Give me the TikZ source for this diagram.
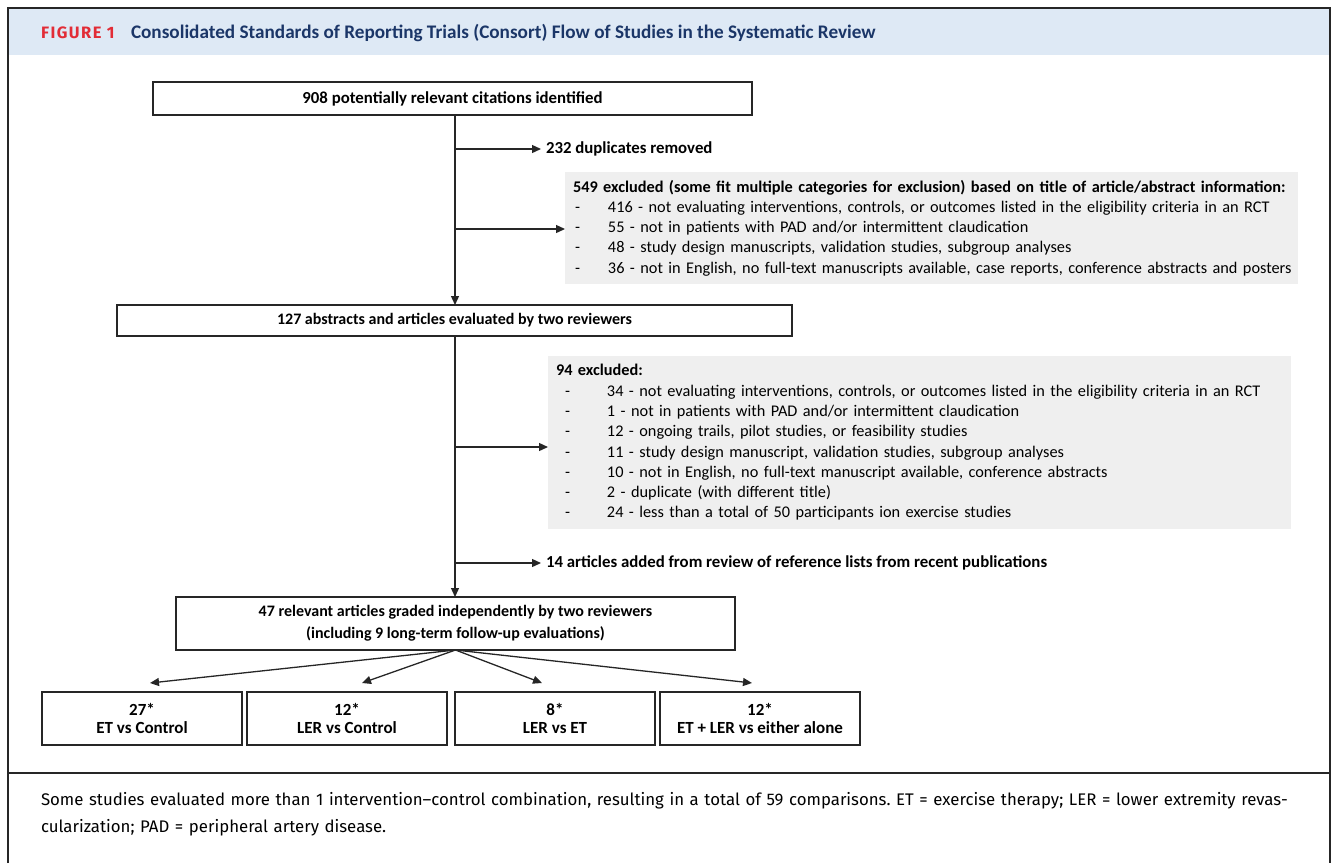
\documentclass[tikz,border=0pt]{standalone}
\usepackage{fontspec}
\setmainfont{Carlito}
\newfontfamily\capfont{Fira Sans}
\usetikzlibrary{arrows.meta}
\frenchspacing

\definecolor{headblue}{RGB}{222,233,245}
\definecolor{headred}{RGB}{226,44,54}
\definecolor{headnavy}{RGB}{27,54,104}
\definecolor{exclgrey}{RGB}{239,239,239}

%% one excluded-reason line: indent, dash width, text
\newcommand{\exline}[3]{\hspace*{#1pt}\makebox[#2pt][l]{-}\mbox{#3}}

\begin{document}
\begin{tikzpicture}[x=1pt,y=-1pt,every node/.style={inner sep=0,outer sep=0},
  flowbox/.style={draw=black!85,line width=1.3pt,fill=white,align=center,
    font=\fontsize{16}{22}\selectfont\bfseries},
  resbox/.style={flowbox,minimum width=200,minimum height=53,
    font=\fontsize{17}{18}\selectfont\bfseries},
  exclbox/.style={fill=exclgrey,anchor=north west,align=left,inner xsep=8,
    font=\fontsize{16.3}{20.3}\selectfont},
  sidetext/.style={anchor=west,inner xsep=5,font=\fontsize{16.8}{19}\selectfont\bfseries},
  flowarrow/.style={-{Triangle[length=9pt,width=8pt]},line width=1.3pt,draw=black!85}]
  \useasboundingbox (0,0) rectangle (1336,863);

  %% Frame and header band.
  \fill[headblue] (9,9) rectangle (1329,55);
  \draw[line width=2pt,black!85] (8,863) -- (8,8) -- (1330,8) -- (1330,863);
  \draw[line width=1.5pt,black!85] (8,773) -- (1330,773);
  \node[anchor=west,text=headred,font=\capfont\fontsize{16.5}{18}\selectfont\bfseries\addfontfeature{LetterSpace=9}] (fig) at (41,33) {FIGURE 1};
  \node[anchor=west,text=headnavy,font=\fontsize{19.2}{22}\selectfont\bfseries] (title) at (131,33)
    {Consolidated Standards of Reporting Trials (Consort) Flow of Studies in the Systematic Review};

  %% Main column.
  \node[flowbox,minimum width=599,minimum height=33,font=\fontsize{16.8}{20}\selectfont\bfseries] (cit) at (452.5,98.5)
    {908 potentially relevant citations identified};
  \node[flowbox,minimum width=675,minimum height=31] (abs) at (454.5,320.5)
    {127 abstracts and articles evaluated by two reviewers};
  \node[flowbox,minimum width=559,minimum height=53] (grad) at (455.5,623.5)
    {47 relevant articles graded independently by two reviewers\\(including 9 long-term follow-up evaluations)};

  %% Side notes.
  \node[sidetext] (dup) at (541,149) {232 duplicates removed};
  \node[exclbox,minimum height=112,text width=717] (excl1) at (565,172)
    {\textbf{549 excluded (some fit multiple categories for exclusion) based on title of article/abstract information:}\\
     \exline{2}{33}{416 - not evaluating interventions, controls, or outcomes listed in the eligibility criteria in an RCT}\\
     \exline{2}{33}{55 - not in patients with PAD and/or intermittent claudication}\\
     \exline{2}{33}{48 - study design manuscripts, validation studies, subgroup analyses}\\
     \exline{2}{33}{36 - not in English, no full-text manuscripts available, case reports, conference abstracts and posters}};
  \node[exclbox,minimum height=173,text width=727] (excl2) at (548,356)
    {\textbf{94 excluded:}\\
     \exline{9}{42}{34 - not evaluating interventions, controls, or outcomes listed in the eligibility criteria in an RCT}\\
     \exline{9}{42}{1 - not in patients with PAD and/or intermittent claudication}\\
     \exline{9}{42}{12 - ongoing trails, pilot studies, or feasibility studies}\\
     \exline{9}{42}{11 - study design manuscript, validation studies, subgroup analyses}\\
     \exline{9}{42}{10 - not in English, no full-text manuscript available, conference abstracts}\\
     \exline{9}{42}{2 - duplicate (with different title)}\\
     \exline{9}{42}{24 - less than a total of 50 participants ion exercise studies}};
  \node[sidetext] (added) at (541,563) {14 articles added from review of reference lists from recent publications};

  %% Comparison boxes.
  \node[resbox] (etc) at (142,718.5) {27*\\ET vs Control};
  \node[resbox] (lerc) at (347,718.5) {12*\\LER vs Control};
  \node[resbox] (leret) at (555,718.5) {8*\\LER vs ET};
  \node[resbox] (comb) at (760,718.5) {12*\\ET + LER vs either alone};

  %% Branch points on the trunk.
  \coordinate (j1) at (455,149);
  \coordinate (j2) at (455,229);
  \coordinate (j3) at (455,447);
  \coordinate (j4) at (455,563);

  \draw[flowarrow] (cit.south -| j1) -- (abs.north -| j1);
  \draw[flowarrow] (abs.south -| j1) -- (grad.north -| j1);
  \draw[flowarrow] (j1) -- (dup);
  \draw[flowarrow] (j2) -- (j2 -| excl1.west);
  \draw[flowarrow] (j3) -- (j3 -| excl2.west);
  \draw[flowarrow] (j4) -- (added);

  \draw[flowarrow] (grad.south) -- ([shift={(8,-9)}]etc.north);
  \draw[flowarrow] (grad.south) -- ([shift={(15,-9)}]lerc.north);
  \draw[flowarrow] (grad.south) -- ([shift={(-13,-9)}]leret.north);
  \draw[flowarrow] (grad.south) -- ([shift={(-8,-9)}]comb.north);

  %% Caption.
  \node[anchor=north west,align=left,text width=1285,font=\capfont\fontsize{16.8}{27}\selectfont] (note) at (41,792)
    {Some studies evaluated more than 1 intervention–control combination, resulting in a total of 59 comparisons. ET = exercise therapy; LER = lower extremity revas-\\cularization; PAD = peripheral artery disease.};
\end{tikzpicture}
\end{document}
